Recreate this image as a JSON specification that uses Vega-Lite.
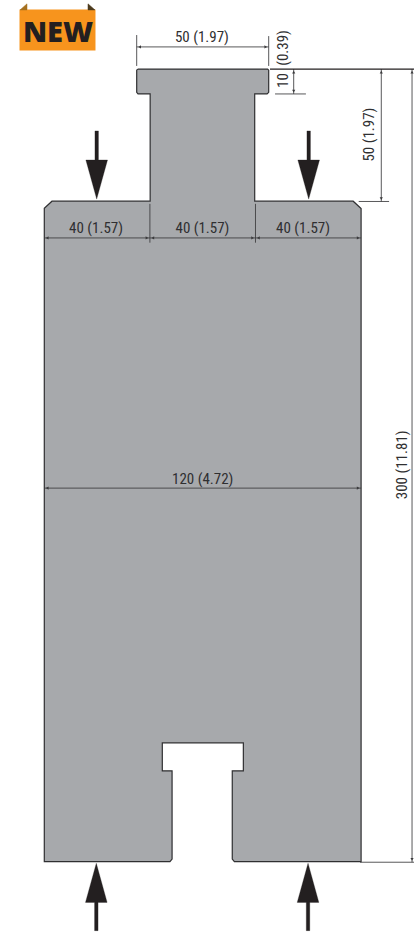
{
"$schema":"https://vega.github.io/schema/vega-lite/v6.json",
"width":414,"height":934,"padding":0,
"autosize":{"type":"none"},
"background":"white",
"config":{"view":{"stroke":null}},
"encoding":{
"x":{"field":"x","type":"quantitative","axis":null,"scale":{"domain":[-16.78,140.04],"nice":false,"zero":false}},
"y":{"field":"y","type":"quantitative","axis":null,"scale":{"domain":[-27.37,326.16],"nice":false,"zero":false}}
},
"layer":[
{"data":{"values":[{"x":-9.39,"x2":19.39,"y":322.56,"y2":307.04}]},
 "mark":{"type":"rect","fill":"#f7941d"},
 "encoding":{"x2":{"field":"x2"},"y2":{"field":"y2"}}},
{"data":{"values":[
 {"id":"a","i":0,"x":-9.2,"y":322.4},{"id":"a","i":1,"x":-6.55,"y":324.7},{"id":"a","i":2,"x":-6.55,"y":322.4},{"id":"a","i":3,"x":-9.2,"y":322.4}
]},"mark":{"type":"line","fill":"#a5701f","stroke":"#a5701f","strokeWidth":0.5},
 "encoding":{"order":{"field":"i"},"detail":{"field":"id"}}},
{"data":{"values":[
 {"id":"b","i":0,"x":16.55,"y":322.4},{"id":"b","i":1,"x":16.55,"y":324.7},{"id":"b","i":2,"x":19.2,"y":322.4},{"id":"b","i":3,"x":16.55,"y":322.4}
]},"mark":{"type":"line","fill":"#4d3b1e","stroke":"#4d3b1e","strokeWidth":0.5},
 "encoding":{"order":{"field":"i"},"detail":{"field":"id"}}},
{"data":{"values":[{"x":5.2,"y":313.6,"t":"NEW"}]},
 "mark":{"type":"text","font":"Open Sans","fontWeight":800,"fontSize":29,"fill":"#231f20","align":"center","baseline":"middle"},
 "encoding":{"text":{"field":"t"}}},
{"data":{"values":[
 {"i":0,"x":35.4,"y":300},{"i":1,"x":84.6,"y":300},{"i":2,"x":85,"y":299.6},{"i":3,"x":85,"y":291.2},{"i":4,"x":84.4,"y":290.6},{"i":5,"x":79.7,"y":290.6},{"i":6,"x":79.7,"y":250},{"i":7,"x":117,"y":250},{"i":8,"x":120,"y":247.2},{"i":9,"x":120,"y":0},{"i":10,"x":72,"y":0},{"i":11,"x":71.2,"y":1},{"i":12,"x":71.2,"y":34.4},{"i":13,"x":75.4,"y":34.4},{"i":14,"x":75.4,"y":45},{"i":15,"x":44.7,"y":45},{"i":16,"x":44.7,"y":34.4},{"i":17,"x":48.4,"y":34.4},{"i":18,"x":48.4,"y":1},{"i":19,"x":47.6,"y":0},{"i":20,"x":0,"y":0},{"i":21,"x":0,"y":247.3},{"i":22,"x":2.9,"y":250},{"i":23,"x":40.1,"y":250},{"i":24,"x":40.1,"y":290.6},{"i":25,"x":35.5,"y":290.6},{"i":26,"x":35,"y":291.2},{"i":27,"x":35,"y":299.6},{"i":28,"x":35.4,"y":300}
]},"mark":{"type":"line","fill":"#a7a9ac","stroke":"#2f2f31","strokeWidth":1.2,"strokeJoin":"miter"},
 "encoding":{"order":{"field":"i"}}},
{"data":{"values":[
 {"id":"d1","i":0,"x":19.19,"y":276.6},{"id":"d1","i":1,"x":20.51,"y":276.6},{"id":"d1","i":2,"x":20.51,"y":265.6},{"id":"d1","i":3,"x":23.95,"y":265.6},{"id":"d1","i":4,"x":19.85,"y":250.8},{"id":"d1","i":5,"x":15.75,"y":265.6},{"id":"d1","i":6,"x":19.19,"y":265.6},{"id":"d1","i":7,"x":19.19,"y":276.6},
 {"id":"d2","i":0,"x":99.49,"y":276.6},{"id":"d2","i":1,"x":100.81,"y":276.6},{"id":"d2","i":2,"x":100.81,"y":265.6},{"id":"d2","i":3,"x":104.25,"y":265.6},{"id":"d2","i":4,"x":100.15,"y":250.8},{"id":"d2","i":5,"x":96.05,"y":265.6},{"id":"d2","i":6,"x":99.49,"y":265.6},{"id":"d2","i":7,"x":99.49,"y":276.6},
 {"id":"u1","i":0,"x":19.04,"y":-26.1},{"id":"u1","i":1,"x":20.36,"y":-26.1},{"id":"u1","i":2,"x":20.36,"y":-15.4},{"id":"u1","i":3,"x":23.8,"y":-15.4},{"id":"u1","i":4,"x":19.7,"y":-0.6},{"id":"u1","i":5,"x":15.6,"y":-15.4},{"id":"u1","i":6,"x":19.04,"y":-15.4},{"id":"u1","i":7,"x":19.04,"y":-26.1},
 {"id":"u2","i":0,"x":99.24,"y":-26.1},{"id":"u2","i":1,"x":100.56,"y":-26.1},{"id":"u2","i":2,"x":100.56,"y":-15.4},{"id":"u2","i":3,"x":104,"y":-15.4},{"id":"u2","i":4,"x":99.9,"y":-0.6},{"id":"u2","i":5,"x":95.8,"y":-15.4},{"id":"u2","i":6,"x":99.24,"y":-15.4},{"id":"u2","i":7,"x":99.24,"y":-26.1}
]},"mark":{"type":"line","fill":"#231f20","stroke":"#231f20","strokeWidth":0.3,"strokeJoin":"miter"},
 "encoding":{"order":{"field":"i"},"detail":{"field":"id"}}},
{"data":{"values":[
 {"id":"top","i":0,"x":35,"y":308.4},{"id":"top","i":1,"x":85,"y":308.4},
 {"id":"e1","i":0,"x":35,"y":312.9},{"id":"e1","i":1,"x":35,"y":301.2},
 {"id":"e2","i":0,"x":85,"y":312.5},{"id":"e2","i":1,"x":85,"y":301.2},
 {"id":"d10","i":0,"x":94.47,"y":300},{"id":"d10","i":1,"x":94.47,"y":290.6},
 {"id":"e10","i":0,"x":87.4,"y":290.6},{"id":"e10","i":1,"x":99.1,"y":290.6},
 {"id":"d50","i":0,"x":127.65,"y":300},{"id":"d50","i":1,"x":127.65,"y":249.9},
 {"id":"e50","i":0,"x":119.1,"y":249.9},{"id":"e50","i":1,"x":130.6,"y":249.9},
 {"id":"d300","i":0,"x":139.3,"y":300},{"id":"d300","i":1,"x":139.3,"y":-0.2},
 {"id":"e300","i":0,"x":119.6,"y":-0.2},{"id":"e300","i":1,"x":140.04,"y":-0.2},
 {"id":"w40","i":0,"x":0,"y":236.1},{"id":"w40","i":1,"x":120,"y":236.1},
 {"id":"s1","i":0,"x":40,"y":249},{"id":"s1","i":1,"x":40,"y":234.3},
 {"id":"s2","i":0,"x":80,"y":249},{"id":"s2","i":1,"x":80,"y":234.3},
 {"id":"w120","i":0,"x":0,"y":141.4},{"id":"w120","i":1,"x":120,"y":141.4}
]},"mark":{"type":"line","stroke":"#3a3a3c","strokeWidth":0.85},
 "encoding":{"order":{"field":"i"},"detail":{"field":"id"}}},
{"data":{"values":[
 {"id":"h","i":0,"x":85.5,"y":300},{"id":"h","i":1,"x":140.04,"y":300}
]},"mark":{"type":"line","stroke":"#231f20","strokeWidth":1.2},
 "encoding":{"order":{"field":"i"},"detail":{"field":"id"}}},
{"data":{"values":[
 {"x":36.1,"y":308.4,"s":"triangle-left"},{"x":83.9,"y":308.4,"s":"triangle-right"},
 {"x":94.47,"y":298.9,"s":"triangle-up"},{"x":94.47,"y":291.7,"s":"triangle-down"},
 {"x":127.65,"y":298.9,"s":"triangle-up"},{"x":127.65,"y":251,"s":"triangle-down"},
 {"x":139.3,"y":298.9,"s":"triangle-up"},{"x":139.3,"y":0.9,"s":"triangle-down"},
 {"x":1.1,"y":236.1,"s":"triangle-left"},{"x":38.9,"y":236.1,"s":"triangle-right"},
 {"x":41.1,"y":236.1,"s":"triangle-left"},{"x":78.9,"y":236.1,"s":"triangle-right"},
 {"x":81.1,"y":236.1,"s":"triangle-left"},{"x":118.9,"y":236.1,"s":"triangle-right"},
 {"x":1.1,"y":141.4,"s":"triangle-left"},{"x":118.9,"y":141.4,"s":"triangle-right"}
]},"mark":{"type":"point","filled":true,"fill":"#3a3a3c","opacity":1,"size":10},
 "encoding":{"shape":{"field":"s","type":"nominal","scale":null}}},
{"data":{"values":[
 {"x":59.7,"y":312.3,"t":"50 (1.97)","a":0},
 {"x":19.6,"y":239.9,"t":"40 (1.57)","a":0},
 {"x":59.9,"y":239.9,"t":"40 (1.57)","a":0},
 {"x":98,"y":239.9,"t":"40 (1.57)","a":0},
 {"x":60,"y":145,"t":"120 (4.72)","a":0},
 {"x":90.6,"y":308,"t":"(0.39)","a":-90},
 {"x":90.6,"y":295.7,"t":"10","a":-90},
 {"x":123.1,"y":275.2,"t":"50 (1.97)","a":-90},
 {"x":135.4,"y":150.2,"t":"300 (11.81)","a":-90}
]},"mark":{"type":"text","font":"'Roboto Condensed','Noto Sans Condensed','Open Sans Condensed','DejaVu Sans Condensed',sans-serif","fontSize":15,"fill":"#2f2f31","align":"center","baseline":"middle"},
 "encoding":{"text":{"field":"t"},"angle":{"field":"a","type":"quantitative","scale":null}}}
]
}
